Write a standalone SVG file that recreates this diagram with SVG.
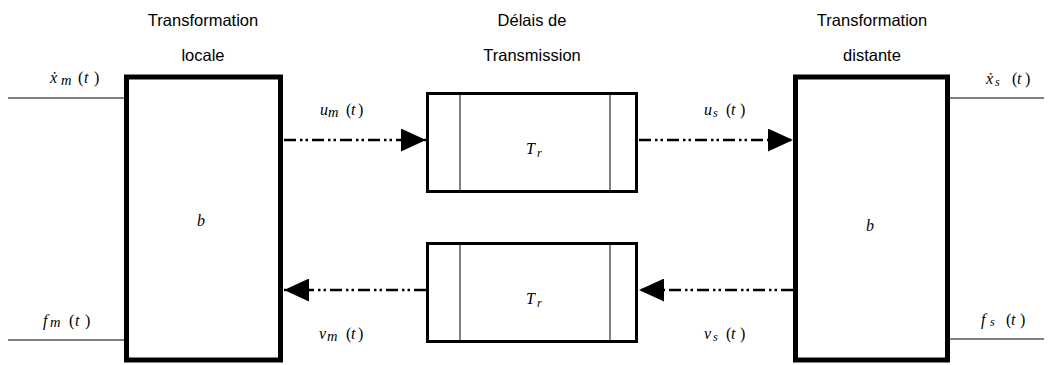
<svg xmlns="http://www.w3.org/2000/svg" width="1052" height="365" viewBox="0 0 1052 365">
<style>
.title{font-family:"Liberation Sans",Arial,sans-serif;font-size:16.5px;fill:#000;text-anchor:middle}
.m{font-family:"Liberation Serif","Times New Roman",serif;font-style:italic;font-size:16px;fill:#000}
.mu{font-style:normal}
.sub{font-size:12px}
.sm{font-size:14.5px}
.big{fill:#fff;stroke:#000;stroke-width:5}
.dly{fill:#fff;stroke:#000;stroke-width:3}
.thin{stroke:#000;stroke-width:1;fill:none}
.sig{stroke:#000;stroke-width:2.5;fill:none;stroke-dasharray:12 4 2.5 3 2.5 4}
</style>
<defs>
<marker id="ah" viewBox="0 0 12 11" refX="12" refY="5.5" markerWidth="25" markerHeight="23" markerUnits="userSpaceOnUse" orient="auto">
<path d="M0,0 L12,5.5 L0,11 Z" fill="#000"/>
</marker>
</defs>
<g id="titles">
<text class="title" x="203" y="26">Transformation</text>
<text class="title" x="203" y="61">locale</text>
<text class="title" x="532" y="26">Délais de</text>
<text class="title" x="532" y="61">Transmission</text>
<text class="title" x="872" y="26">Transformation</text>
<text class="title" x="872" y="61">distante</text>
</g>
<g id="connectors">
<line class="thin" x1="8" y1="98" x2="125" y2="98"/>
<line class="thin" x1="8" y1="340" x2="125" y2="340"/>
<line class="thin" x1="948" y1="98" x2="1044" y2="98"/>
<line class="thin" x1="948" y1="339" x2="1044" y2="339"/>
<path class="sig" d="M284,140 L426,140" marker-end="url(#ah)"/>
<path class="sig" d="M639,140 L793,140" marker-end="url(#ah)"/>
<path class="sig" d="M426,290 L284,290" marker-end="url(#ah)"/>
<path class="sig" d="M793,290 L639,290" marker-end="url(#ah)"/>
</g>
<g id="local">
<rect class="big" x="126.5" y="77" width="154" height="283"/>
<text class="m" x="197" y="226" font-size="14">b</text>
</g>
<g id="distant">
<rect class="big" x="795.5" y="77" width="152" height="283"/>
<text class="m" x="866" y="231" font-size="14">b</text>
</g>
<g id="delay-top">
<rect class="dly" x="427.5" y="93.5" width="209" height="98"/>
<line class="thin" x1="460" y1="94" x2="460" y2="191"/>
<line class="thin" x1="610" y1="94" x2="610" y2="191"/>
<text class="m" x="526" y="154" font-size="17">T<tspan x="537" y="157" font-size="12">r</tspan></text>
</g>
<g id="delay-bottom">
<rect class="dly" x="427.5" y="243.5" width="209" height="98"/>
<line class="thin" x1="460" y1="244" x2="460" y2="341"/>
<line class="thin" x1="610" y1="244" x2="610" y2="341"/>
<text class="m" x="526" y="304" font-size="17">T<tspan x="537" y="307" font-size="12">r</tspan></text>
</g>
<g id="labels">
<text class="m" x="50" y="83">ẋ<tspan class="sm" x="61" y="85">m</tspan><tspan class="mu" x="78" y="83">(</tspan><tspan x="84">t</tspan><tspan class="mu" x="94">)</tspan></text>
<text class="m" x="986" y="84">ẋ<tspan class="sub" x="995" y="86">s</tspan><tspan class="mu" x="1012" y="84">(</tspan><tspan x="1017">t</tspan><tspan class="mu" x="1025">)</tspan></text>
<text class="m" x="320" y="115">u<tspan class="sm" x="328" y="117">m</tspan><tspan class="mu" x="346" y="115">(</tspan><tspan x="351">t</tspan><tspan class="mu" x="358">)</tspan></text>
<text class="m" x="704" y="115">u<tspan class="sub" x="713" y="117">s</tspan><tspan class="mu" x="726" y="115">(</tspan><tspan x="731">t</tspan><tspan class="mu" x="740">)</tspan></text>
<text class="m" x="43" y="326">f<tspan class="sm" x="50" y="327">m</tspan><tspan class="mu" x="69" y="326">(</tspan><tspan x="75">t</tspan><tspan class="mu" x="85">)</tspan></text>
<text class="m" x="981" y="325">f<tspan class="sub" x="990" y="326">s</tspan><tspan class="mu" x="1006" y="325">(</tspan><tspan x="1011">t</tspan><tspan class="mu" x="1020">)</tspan></text>
<text class="m" x="319" y="339">v<tspan class="sm" x="327" y="341">m</tspan><tspan class="mu" x="346" y="339">(</tspan><tspan x="351">t</tspan><tspan class="mu" x="358">)</tspan></text>
<text class="m" x="704" y="339">v<tspan class="sub" x="713" y="341">s</tspan><tspan class="mu" x="726" y="339">(</tspan><tspan x="731">t</tspan><tspan class="mu" x="740">)</tspan></text>
</g>
</svg>
